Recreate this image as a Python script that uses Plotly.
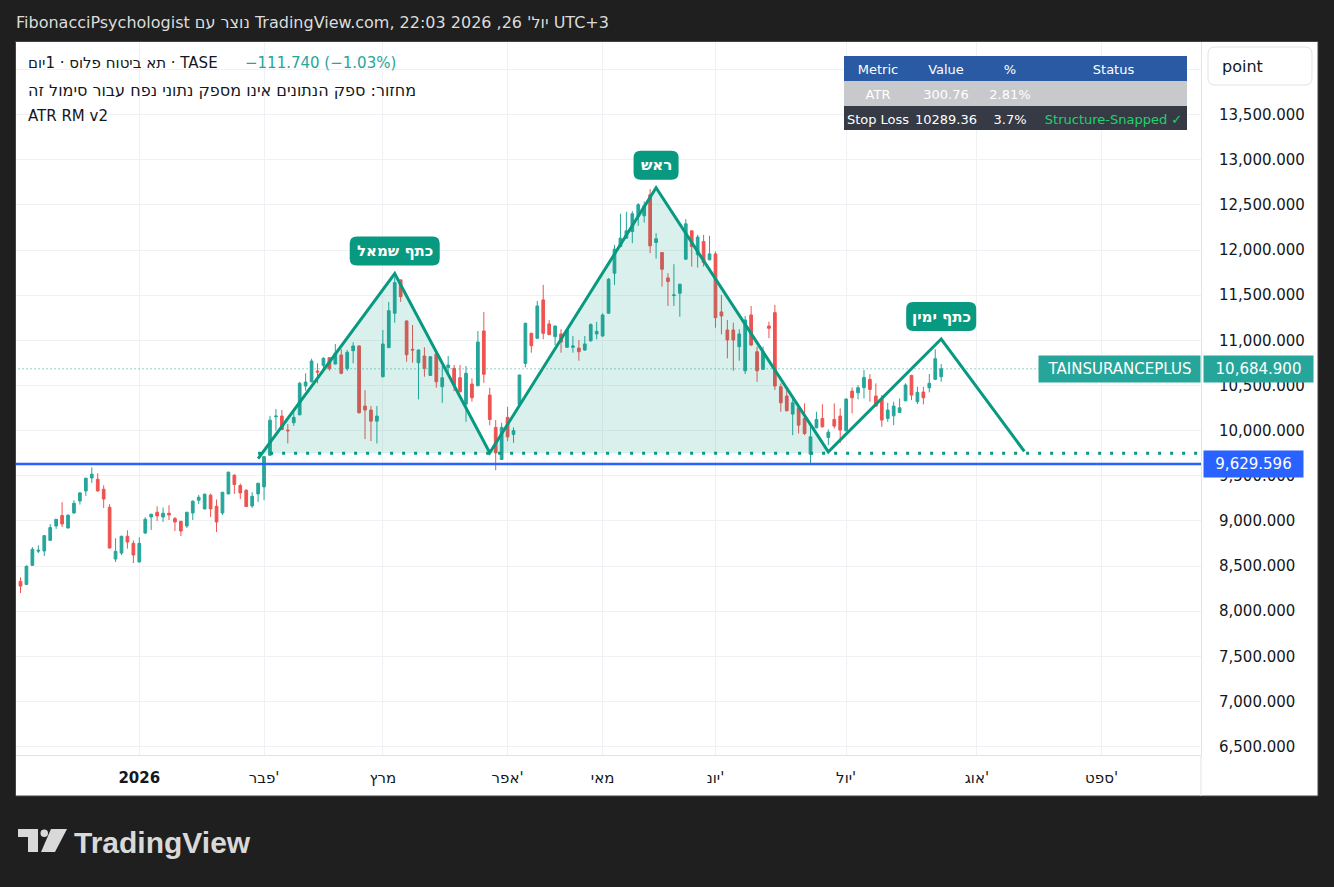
import plotly.graph_objects as go

# daily candles (first visible bar ~ mid Dec 2025)
opens = [8330, 8297, 8508, 8665, 8667, 8785, 8944, 9059, 8922, 9088,
         9221, 9332, 9476, 9462, 9351, 9151, 8578, 8644, 8830, 8752,
         8545, 8866, 9044, 9096, 9044, 9085, 9026, 8996, 8944, 9088,
         9229, 9133, 9285, 9162, 9088, 9299, 9506, 9392, 9340, 9166,
         9299, 9377, 9728, 10153, 10161, 10006, 10087, 10175, 10494, 10541,
         10660, 10723, 10808, 10738, 10838, 10686, 10885, 10938, 10272, 10228,
         10105, 10597, 10919, 11300, 11670, 11215, 10901, 10752, 10827, 10612,
         10849, 10486, 10697, 10690, 10586, 10294, 10516, 10497, 11104, 10394,
         10036, 9680, 10147, 9958, 10291, 10745, 11078, 11023, 11448, 11182,
         11041, 11071, 10923, 10923, 10915, 10893, 10996, 11071, 11048, 11300,
         11744, 12039, 12132, 12205, 12372, 12380, 12613, 12084, 11973, 11692,
         11496, 11522, 11899, 12213, 11948, 12095, 11892, 11958, 11315, 11115,
         11115, 10930, 10663, 11281, 10874, 10679, 11159, 11307, 10486, 10383,
         10183, 10253, 10135, 9739, 10031, 10135, 9924, 10124, 10161, 9998,
         10438, 10419, 10475, 10568, 10383, 10357, 10135, 10164, 10202, 10331,
         10612, 10320, 10427, 10475, 10568, 10597]
highs = [8375, 8508, 8711, 8730, 8840, 8963, 9020, 9207, 9074, 9229,
         9321, 9478, 9592, 9528, 9395, 9185, 8807, 8835, 8896, 8785,
         8818, 9040, 9078, 9162, 9148, 9173, 9044, 9000, 9100, 9229,
         9288, 9303, 9303, 9237, 9320, 9545, 9517, 9414, 9351, 9318,
         9420, 9715, 10164, 10239, 10228, 10072, 10209, 10541, 10635, 10797,
         10746, 10812, 10812, 10960, 10901, 10893, 10979, 10945, 10449, 10272,
         10272, 11115, 11426, 11700, 11675, 11220, 11170, 10898, 10923, 10825,
         10855, 10716, 10827, 10727, 10727, 10716, 10579, 11104, 11315, 10475,
         10117, 10087, 10264, 10036, 10620, 11196, 11085, 11437, 11614, 11226,
         11165, 11123, 11120, 11048, 11004, 11048, 11189, 11204, 11300, 11690,
         12058, 12402, 12424, 12432, 12521, 12538, 12676, 12188, 11978, 11744,
         11844, 11627, 12343, 12218, 12169, 12169, 12158, 11984, 11503, 11226,
         11196, 11123, 11270, 11381, 10930, 10930, 11207, 11392, 10524, 10449,
         10357, 10258, 10302, 10042, 10209, 10291, 10013, 10302, 10246, 10357,
         10479, 10505, 10671, 10627, 10524, 10394, 10308, 10320, 10357, 10524,
         10618, 10486, 10486, 10627, 10901, 10738]
lows = [8200, 8290, 8500, 8644, 8611, 8777, 8911, 8933, 8915, 9080,
        9181, 9277, 9421, 9325, 9144, 8695, 8545, 8622, 8693, 8533,
        8540, 8855, 8900, 8999, 8988, 9010, 8888, 8833, 8922, 9010,
        9188, 9128, 9044, 8877, 9066, 9295, 9299, 9243, 9155, 9144,
        9210, 9229, 9720, 9998, 10008, 9858, 10053, 10170, 10442, 10536,
        10524, 10671, 10663, 10733, 10624, 10663, 10746, 10190, 9906, 9884,
        9858, 10590, 10915, 11196, 11426, 10763, 10752, 10346, 10597, 10607,
        10475, 10308, 10635, 10438, 10425, 10098, 10320, 10492, 10530, 10058,
        9562, 9675, 9884, 9865, 10285, 10701, 10863, 11018, 11012, 11058,
        10949, 10863, 10918, 10863, 10774, 10885, 10985, 11012, 11041, 11295,
        11614, 12035, 12128, 12077, 12269, 12305, 11966, 11906, 11595, 11381,
        11381, 11262, 11894, 11817, 11806, 11817, 11887, 11140, 11067, 10801,
        10663, 10774, 10627, 10937, 10541, 10674, 11023, 10449, 10209, 10215,
        9950, 9969, 9950, 9628, 10026, 10037, 9839, 10024, 9865, 9993,
        10191, 10346, 10357, 10320, 10264, 10042, 10098, 10061, 10197, 10326,
        10338, 10294, 10291, 10424, 10560, 10541]
closes = [8278, 8497, 8685, 8675, 8837, 8926, 9018, 8966, 9063, 9196,
          9310, 9473, 9517, 9332, 9243, 8700, 8663, 8830, 8766, 8622,
          8752, 9018, 9074, 9055, 9085, 9066, 8988, 8888, 9096, 9218,
          9262, 9296, 9133, 8988, 9318, 9540, 9403, 9310, 9159, 9273,
          9418, 9712, 10116, 10161, 10013, 9998, 10147, 10524, 10538, 10771,
          10649, 10801, 10686, 10857, 10635, 10868, 10938, 10198, 10228, 10105,
          10161, 10960, 11329, 11640, 11484, 10841, 10893, 10893, 10690, 10819,
          10541, 10586, 10727, 10505, 10430, 10635, 10364, 10982, 10624, 10124,
          9754, 10036, 9931, 10002, 10616, 11189, 10941, 11381, 11078, 11063,
          11159, 10982, 11115, 10938, 10874, 10960, 11174, 11100, 11281, 11677,
          12010, 12132, 12213, 12402, 12502, 12491, 12047, 12125, 11788, 11651,
          11503, 11622, 12291, 12039, 12144, 11862, 11958, 11251, 11270, 11004,
          11004, 11071, 11226, 10949, 10663, 10874, 11134, 10494, 10308, 10220,
          10308, 10061, 9969, 9931, 10124, 10042, 9983, 10050, 10006, 10350,
          10364, 10475, 10590, 10457, 10272, 10117, 10228, 10272, 10253, 10505,
          10394, 10424, 10364, 10524, 10797, 10684.9]
bars = list(range(len(opens)))

# month ticks (bar index of first session) and labels
month_idx = [20, 41, 61, 82, 98, 117, 139, 161, 182]
month_txt = ["<b>2026</b>", "פבר'", "מרץ", "אפר'", "מאי", "יונ'", "יול'", "אוג'", "ספט'"]

# head & shoulders pivots
pivot_idx = [40, 63, 79, 107, 136, 155, 169]
pivot_px = [9690, 11740, 9755, 12690, 9765, 11015, 9770]
neckline = 9750
support = 9629.596
last_px = 10684.9

# ATR table
tbl_head = ["Metric", "Value", "%", "Status"]
tbl_metric = ["ATR", "Stop\u00a0Loss"]
tbl_value = ["300.76", "10289.36"]
tbl_pct = ["2.81%", "3.7%"]
tbl_status = ["", "Structure-Snapped\u00a0✓"]

# ---- look ----
W, H = 1334, 887
L, R, T, B = 16, 1201, 42, 755          # plot area in page pixels
UP, DN = "#26a69a", "#ef5350"
HS = "#089981"
TXT = "#131722"
GRID = "#f0f1f4"
FONT = "DejaVu Sans, Liberation Sans, sans-serif"
XMAX = 198.74

def px(x):  # page x -> paper
    return (x - L) / (R - L)

def py(y):  # page y -> paper
    return (B - y) / (B - T)

def rr_path(x0, y0, x1, y1, r, fx=lambda v: v, fy=lambda v: v):
    pts = [("M", x0 + r, y0), ("L", x1 - r, y0), ("Q", x1, y0, x1, y0 + r),
           ("L", x1, y1 - r), ("Q", x1, y1, x1 - r, y1), ("L", x0 + r, y1),
           ("Q", x0, y1, x0, y1 - r), ("L", x0, y0 + r), ("Q", x0, y0, x0 + r, y0)]
    s = ""
    for p in pts:
        if p[0] == "Q":
            s += "Q%.5f,%.5f %.5f,%.5f " % (fx(p[1]), fy(p[2]), fx(p[3]), fy(p[4]))
        else:
            s += "%s%.5f,%.5f " % (p[0], fx(p[1]), fy(p[2]))
    return s + "Z"

fig = go.Figure()

# pattern fill between zigzag and neckline (left shoulder .. right trough)
fig.add_trace(go.Scatter(x=[pivot_idx[0], pivot_idx[4]], y=[neckline, neckline],
                         mode="lines", line=dict(width=0), hoverinfo="skip", showlegend=False))
fig.add_trace(go.Scatter(x=pivot_idx[:5], y=pivot_px[:5], mode="lines", line=dict(width=0),
                         fill="tonexty", fillcolor="rgba(8,153,129,0.15)",
                         hoverinfo="skip", showlegend=False))

# last price dotted line
fig.add_trace(go.Scatter(x=[-1, XMAX], y=[last_px, last_px], mode="lines",
                         line=dict(color=UP, width=1, dash="1px,3px"),
                         hoverinfo="skip", showlegend=False))

fig.add_trace(go.Candlestick(
    x=bars, open=opens, high=highs, low=lows, close=closes,
    increasing=dict(line=dict(color=UP, width=1), fillcolor=UP),
    decreasing=dict(line=dict(color=DN, width=1), fillcolor=DN),
    whiskerwidth=0, hoverinfo="skip", showlegend=False))

# neckline (dotted) and zigzag
fig.add_trace(go.Scatter(x=[pivot_idx[0], XMAX], y=[neckline, neckline], mode="lines",
                         line=dict(color=HS, width=3, dash="3px,9px"),
                         hoverinfo="skip", showlegend=False))
fig.add_trace(go.Scatter(x=pivot_idx, y=pivot_px, mode="lines",
                         line=dict(color=HS, width=3),
                         hoverinfo="skip", showlegend=False))

# table
fig.add_trace(go.Table(
    domain=dict(x=[px(844), px(1187)], y=[py(131), py(56)]),
    columnwidth=[68, 68, 60, 147],
    header=dict(values=tbl_head, fill_color="#2a5aa3", height=25, align="center",
                line=dict(width=0), font=dict(family=FONT, size=13, color="white")),
    cells=dict(values=[tbl_metric, tbl_value, tbl_pct, tbl_status], height=25, align="center",
               line=dict(width=0),
               fill_color=[["#c8c9cd", "#363a45"]] * 4,
               font=dict(family=FONT, size=13,
                         color=[["white", "white"]] * 3 + [["white", "#1fd36b"]]))))

shapes = [
    # white chart panel + divider
    dict(type="rect", xref="paper", yref="paper", x0=px(15.5), x1=px(1318), y0=py(796), y1=py(41.5),
         fillcolor="white", line=dict(color="#444444", width=1), layer="below"),
    dict(type="line", xref="paper", yref="paper", x0=1, x1=1, y0=py(796), y1=0,
         line=dict(color="#e0e3eb", width=1)),
    # support level
    dict(type="line", xref="paper", yref="y", x0=0, x1=1, y0=support, y1=support,
         line=dict(color="#2962ff", width=2.5), layer="above"),
    # "point" box
    dict(type="path", xref="paper", yref="paper", path=rr_path(1208, 47, 1312, 85, 7, px, py),
         fillcolor="white", line=dict(color="#e0e3eb", width=1)),
    # TradingView logo icon
    dict(type="rect", xref="paper", yref="paper", x0=px(18), x1=px(38), y0=py(837), y1=py(829),
         fillcolor="#d9d9d9", line_width=0),
    dict(type="rect", xref="paper", yref="paper", x0=px(28), x1=px(38), y0=py(852), y1=py(829),
         fillcolor="#d9d9d9", line_width=0),
    dict(type="circle", xref="paper", yref="paper", x0=px(40.5), x1=px(48), y0=py(837), y1=py(829.5),
         fillcolor="#d9d9d9", line_width=0),
    dict(type="path", xref="paper", yref="paper",
         path="M%f,%f L%f,%f L%f,%f L%f,%f Z" % (px(51), py(829), px(67), py(829),
                                                 px(55), py(852), px(41), py(852)),
         fillcolor="#d9d9d9", line_width=0),
]

# rounded label boxes above the pattern peaks
peak_labels = [("כתף שמאל", 1, 90), ("ראש", 3, 45), ("כתף ימין", 5, 70)]
annotations = []
for txt, k, wpx in peak_labels:
    shapes.append(dict(type="path", xref="x", yref="y", xsizemode="pixel", ysizemode="pixel",
                       xanchor=pivot_idx[k], yanchor=pivot_px[k],
                       path=rr_path(-wpx / 2, 8, wpx / 2, 37, 7),
                       fillcolor=HS, line_width=0, layer="above"))
    annotations.append(dict(x=pivot_idx[k], y=pivot_px[k], xref="x", yref="y", text="<b>%s</b>" % txt,
                            showarrow=False, yshift=22.5, yanchor="middle",
                            font=dict(family=FONT, size=15, color="white")))

hdr1 = "תא ביטוח פלוס · 1יום · TASE"
hdr2 = "מחזור: ספק הנתונים אינו מספק נתוני נפח עבור סימול זה"
title = "FibonacciPsychologist נוצר עם TradingView.com, 22:03 2026 ,26 'יול UTC+3"

def note(x, y, text, size=15, color=TXT, family=FONT, **kw):
    d = dict(x=px(x), y=py(y), xref="paper", yref="paper", text=text, showarrow=False,
             xanchor="left", yanchor="middle", font=dict(family=family, size=size, color=color))
    d.update(kw)
    return d

annotations += [
    note(14, 23, title, size=16, color="#dcdcdc"),
    note(26, 63, hdr1),
    note(243, 63, "−111.740 (−1.03%)", color=UP),
    note(26, 90.5, hdr2, size=16),
    note(26, 116, "ATR RM v2"),
    note(1220, 66, "point", size=16),
    note(72, 842, "<b>TradingView</b>", size=30, color="#d9d9d9",
         family="Liberation Sans, Arial, sans-serif"),
    # price axis labels
    dict(x=1, y=last_px, xref="paper", yref="y", text="TAINSURANCEPLUS", showarrow=False,
         xanchor="right", yanchor="middle", bgcolor=UP, borderpad=4, width=153, height=18,
         font=dict(family=FONT, size=15, color="white")),
    dict(x=px(1203), y=last_px, xref="paper", yref="y", text="10,684.900", showarrow=False,
         xanchor="left", yanchor="middle", bgcolor=UP, borderpad=4, width=101, height=18,
         font=dict(family=FONT, size=15, color="white")),
    dict(x=px(1203), y=support, xref="paper", yref="y", text="9,629.596", showarrow=False,
         xanchor="left", yanchor="middle", bgcolor="#2962ff", borderpad=4, width=91, height=18,
         font=dict(family=FONT, size=15, color="white")),
]

fig.update_layout(
    width=W, height=H, margin=dict(l=L, r=W - R, t=T, b=H - B),
    paper_bgcolor="#1f1f1f", plot_bgcolor="white",
    font=dict(family=FONT, size=15, color=TXT),
    showlegend=False, hovermode=False, dragmode=False, boxgap=0.35,
    shapes=shapes, annotations=annotations,
    xaxis=dict(range=[-0.76, XMAX], tickmode="array", tickvals=month_idx, ticktext=month_txt,
               showgrid=True, gridcolor=GRID, zeroline=False, showline=True, linecolor="#e0e3eb",
               ticks="", ticklabelstandoff=9, tickfont=dict(family=FONT, size=15, color=TXT),
               rangeslider=dict(visible=False), fixedrange=True),
    yaxis=dict(side="right", range=[6407, 14305], tick0=0, dtick=500, tickformat=",.3f",
               showgrid=True, gridcolor=GRID, zeroline=False, showline=True, linecolor="#e0e3eb",
               ticks="", ticklabelstandoff=14, tickfont=dict(family=FONT, size=15, color=TXT),
               fixedrange=True),
)

fig.write_html("out.html", config={"displayModeBar": False},
               post_script="document.body.style.margin='0';document.body.style.overflow='hidden';"
                           "document.body.style.background='#1f1f1f';")
